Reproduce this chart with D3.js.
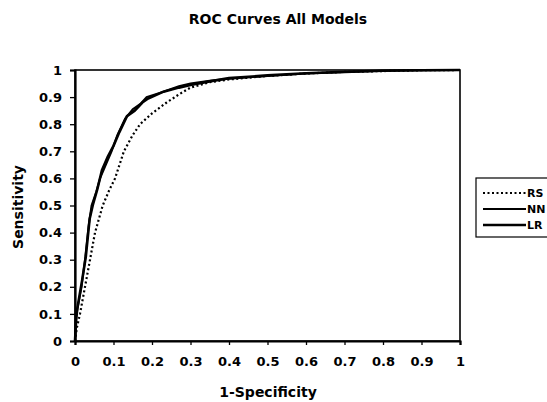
<!DOCTYPE html>
<html>
<meta charset="utf-8">
<head>
<script src="https://d3js.org/d3.v7.min.js"></script>
<style>
  body { margin: 0; background: #fff; }
  text { font-family: "DejaVu Sans", sans-serif; font-weight: bold; fill: #000; }
</style>
</head>
<body>
<div id="chart"></div>
<script>
// ROC points
var rsFpr = [0, 0.005, 0.013, 0.026, 0.039, 0.052, 0.072, 0.09, 0.104, 0.127, 0.15, 0.169, 0.2, 0.238, 0.27, 0.3, 0.35, 0.4, 0.5, 0.6, 0.7, 0.8, 0.9, 1];
var rsTpr = [0, 0.05, 0.1, 0.2, 0.3, 0.4, 0.5, 0.56, 0.6, 0.7, 0.76, 0.8, 0.84, 0.88, 0.91, 0.935, 0.955, 0.965, 0.978, 0.987, 0.993, 0.996, 0.999, 1];

var nnFpr = [0, 0.002, 0.004, 0.017, 0.026, 0.035, 0.043, 0.055, 0.065, 0.08, 0.095, 0.11, 0.13, 0.15, 0.17, 0.186, 0.22, 0.27, 0.3, 0.35, 0.4, 0.5, 0.6, 0.7, 0.8, 0.9, 1];
var nnTpr = [0, 0.06, 0.1, 0.2, 0.3, 0.42, 0.5, 0.55, 0.6, 0.65, 0.7, 0.76, 0.82, 0.855, 0.875, 0.9, 0.915, 0.94, 0.95, 0.96, 0.968, 0.978, 0.987, 0.993, 0.997, 0.999, 1];

var lrFpr = [0, 0.003, 0.006, 0.018, 0.028, 0.038, 0.046, 0.058, 0.07, 0.085, 0.1, 0.115, 0.135, 0.155, 0.175, 0.19, 0.23, 0.27, 0.3, 0.35, 0.4, 0.5, 0.6, 0.7, 0.8, 0.9, 1];
var lrTpr = [0, 0.08, 0.12, 0.22, 0.31, 0.45, 0.5, 0.56, 0.63, 0.68, 0.72, 0.77, 0.83, 0.85, 0.88, 0.895, 0.92, 0.935, 0.945, 0.958, 0.97, 0.98, 0.988, 0.993, 0.997, 0.999, 1];

var seriesNames = ["RS", "NN", "LR"];
var tickValues = [0, 0.1, 0.2, 0.3, 0.4, 0.5, 0.6, 0.7, 0.8, 0.9, 1];

var width = 547, height = 402;
var margin = {top: 70, right: 87, bottom: 61, left: 75};

var svg = d3.select("#chart").append("svg")
    .attr("width", width)
    .attr("height", height);

var x = d3.scaleLinear().domain([0, 1]).range([margin.left, width - margin.right]);
var y = d3.scaleLinear().domain([0, 1]).range([height - margin.bottom, margin.top]);

// title
svg.append("text")
    .attr("x", 278).attr("y", 24)
    .attr("text-anchor", "middle")
    .style("font-size", "14px")
    .text("ROC Curves All Models");

// plot frame
svg.append("rect")
    .attr("x", x(0)).attr("y", y(1))
    .attr("width", x(1) - x(0)).attr("height", y(0) - y(1))
    .attr("fill", "none").attr("stroke", "#000").attr("stroke-width", 1.6);

var fmt = function(d) { return d === 0 || d === 1 ? String(d) : d3.format(".1f")(d); };

var xAxis = svg.append("g")
    .attr("transform", "translate(0," + y(0) + ")")
    .call(d3.axisBottom(x).tickValues(tickValues).tickSize(4).tickPadding(12).tickFormat(fmt));
var yAxis = svg.append("g")
    .attr("transform", "translate(" + x(0) + ",0)")
    .call(d3.axisLeft(y).tickValues(tickValues).tickSize(5).tickPadding(8).tickFormat(fmt));

[xAxis, yAxis].forEach(function(a) {
  a.attr("font-family", null).attr("font-size", null);
  a.select(".domain").attr("stroke-width", 2.2);
  a.selectAll(".tick line").attr("stroke-width", 1.3);
  a.selectAll(".tick text").style("font-size", "13px");
});

// axis titles
svg.append("text")
    .attr("x", 268).attr("y", 397)
    .attr("text-anchor", "middle")
    .style("font-size", "14px")
    .text("1-Specificity");
svg.append("text")
    .attr("transform", "translate(23," + 207 + ") rotate(-90)")
    .attr("text-anchor", "middle")
    .style("font-size", "14px")
    .text("Sensitivity");

var line = d3.line()
    .x(function(d) { return x(d[0]); })
    .y(function(d) { return y(d[1]); });

function pairs(a, b) { return a.map(function(v, i) { return [v, b[i]]; }); }

var styles = {
  RS: {w: 2.2, dash: "2,2.5"},
  NN: {w: 2, dash: null},
  LR: {w: 2.6, dash: null}
};

var data = {
  RS: pairs(rsFpr, rsTpr),
  NN: pairs(nnFpr, nnTpr),
  LR: pairs(lrFpr, lrTpr)
};

seriesNames.forEach(function(n) {
  svg.append("path")
      .datum(data[n])
      .attr("d", line)
      .attr("fill", "none")
      .attr("stroke", "#000")
      .attr("stroke-width", styles[n].w)
      .attr("stroke-dasharray", styles[n].dash);
});

// legend
var legend = svg.append("g").attr("transform", "translate(476,178)");
legend.append("rect")
    .attr("width", 80).attr("height", 59)
    .attr("fill", "#fff").attr("stroke", "#000").attr("stroke-width", 1.2);

seriesNames.forEach(function(n, i) {
  var ly = 15 + i * 16;
  legend.append("line")
      .attr("x1", 7).attr("x2", 50)
      .attr("y1", ly).attr("y2", ly)
      .attr("stroke", "#000")
      .attr("stroke-width", styles[n].w)
      .attr("stroke-dasharray", styles[n].dash);
  legend.append("text")
      .attr("x", 51).attr("y", ly + 4)
      .style("font-size", "11px")
      .text(n);
});
</script>
</body>
</html>
